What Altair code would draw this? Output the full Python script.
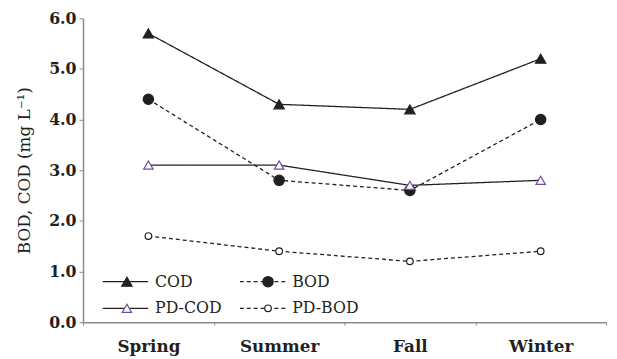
import altair as alt
import pandas as pd

seasons = ["Spring", "Summer", "Fall", "Winter"]
series_names = ["COD", "BOD", "PD-COD", "PD-BOD"]
cod = [5.7, 4.3, 4.2, 5.2]
bod = [4.4, 2.8, 2.6, 4.0]
pd_cod = [3.1, 3.1, 2.7, 2.8]
pd_bod = [1.7, 1.4, 1.2, 1.4]
y_ticks = [0, 1, 2, 3, 4, 5, 6]

rows = []
for name, vals in zip(series_names, [cod, bod, pd_cod, pd_bod]):
    for s, v in zip(seasons, vals):
        rows.append({"season": s, "value": v, "series": name, "series2": name})
df = pd.DataFrame(rows)

FONT = "DejaVu Serif"
INK = "#231f20"
PURPLE = "#6f4f9c"
AXIS = "#8a8a8a"

x = alt.X(
    "season:N", sort=seasons,
    scale=alt.Scale(type="band", paddingInner=0, paddingOuter=0),
    axis=alt.Axis(title=None, labelAngle=0, tickBand="extent", tickSize=3,
                  labelFont=FONT, labelFontWeight="bold", labelFontSize=17,
                  labelPadding=14, labelColor=INK, domainColor=AXIS,
                  tickColor=AXIS, domainWidth=1.5, tickWidth=1),
)
y = alt.Y(
    "value:Q",
    scale=alt.Scale(domain=[0, 6], nice=False),
    axis=alt.Axis(values=y_ticks, format=".1f", title="BOD, COD (mg L⁻¹)",
                  titleFont=FONT, titleFontWeight="normal", titleFontSize=17,
                  titleColor=INK, titlePadding=15,
                  labelFont=FONT, labelFontWeight="bold", labelFontSize=16,
                  labelColor=INK, labelPadding=3, tickSize=4, tickColor=AXIS,
                  domainColor=AXIS, domainWidth=1.5, grid=False),
)

common_legend = dict(
    title=None, orient="none", legendX=35, legendY=259, columns=2,
    direction="horizontal", rowPadding=11, labelFont=FONT, labelFontSize=16,
    labelColor=INK, labelOffset=22, padding=0,
)

legend_lines = alt.Legend(
    symbolType="M-4.6,0H4.6", symbolSize=100, symbolStrokeColor=INK,
    symbolStrokeWidth=1.3, columnPadding=15, **common_legend,
)
legend_marks = alt.Legend(labelExpr="''", symbolStrokeWidth=1.2,
                          symbolOffset=1.5,
                          columnPadding=103, **common_legend)

lines = alt.Chart(df).mark_line(color=INK, strokeWidth=1.3).encode(
    x=x, y=y,
    strokeDash=alt.StrokeDash(
        "series:N", sort=series_names,
        scale=alt.Scale(range=[[1, 0], [4, 3], [1, 0], [4, 3]]),
        legend=legend_lines,
    ),
)

points = alt.Chart(df).mark_point(opacity=1, strokeWidth=1.2).encode(
    x=x, y=y,
    shape=alt.Shape("series2:N",
                    scale=alt.Scale(domain=series_names,
                                    range=["triangle-up", "circle", "triangle-up", "circle"]),
                    legend=legend_marks),
    fill=alt.Fill("series2:N",
                  scale=alt.Scale(domain=series_names,
                                  range=[INK, INK, "white", "white"]),
                  legend=legend_marks),
    stroke=alt.Stroke("series2:N",
                      scale=alt.Scale(domain=series_names,
                                      range=[INK, INK, PURPLE, INK]),
                      legend=legend_marks),
    size=alt.Size("series2:N",
                  scale=alt.Scale(type="ordinal", domain=series_names,
                                  range=[110, 110, 90, 45]),
                  legend=legend_marks),
)

chart = alt.layer(lines, points).properties(
    width=530, height=308,
    autosize=alt.AutoSizeParams(type="none"),
    padding={"left": 76, "top": 8, "right": 3, "bottom": 35},
).configure_view(stroke=None)

chart.save("out.html", embed_options={"renderer": "svg", "actions": False})
